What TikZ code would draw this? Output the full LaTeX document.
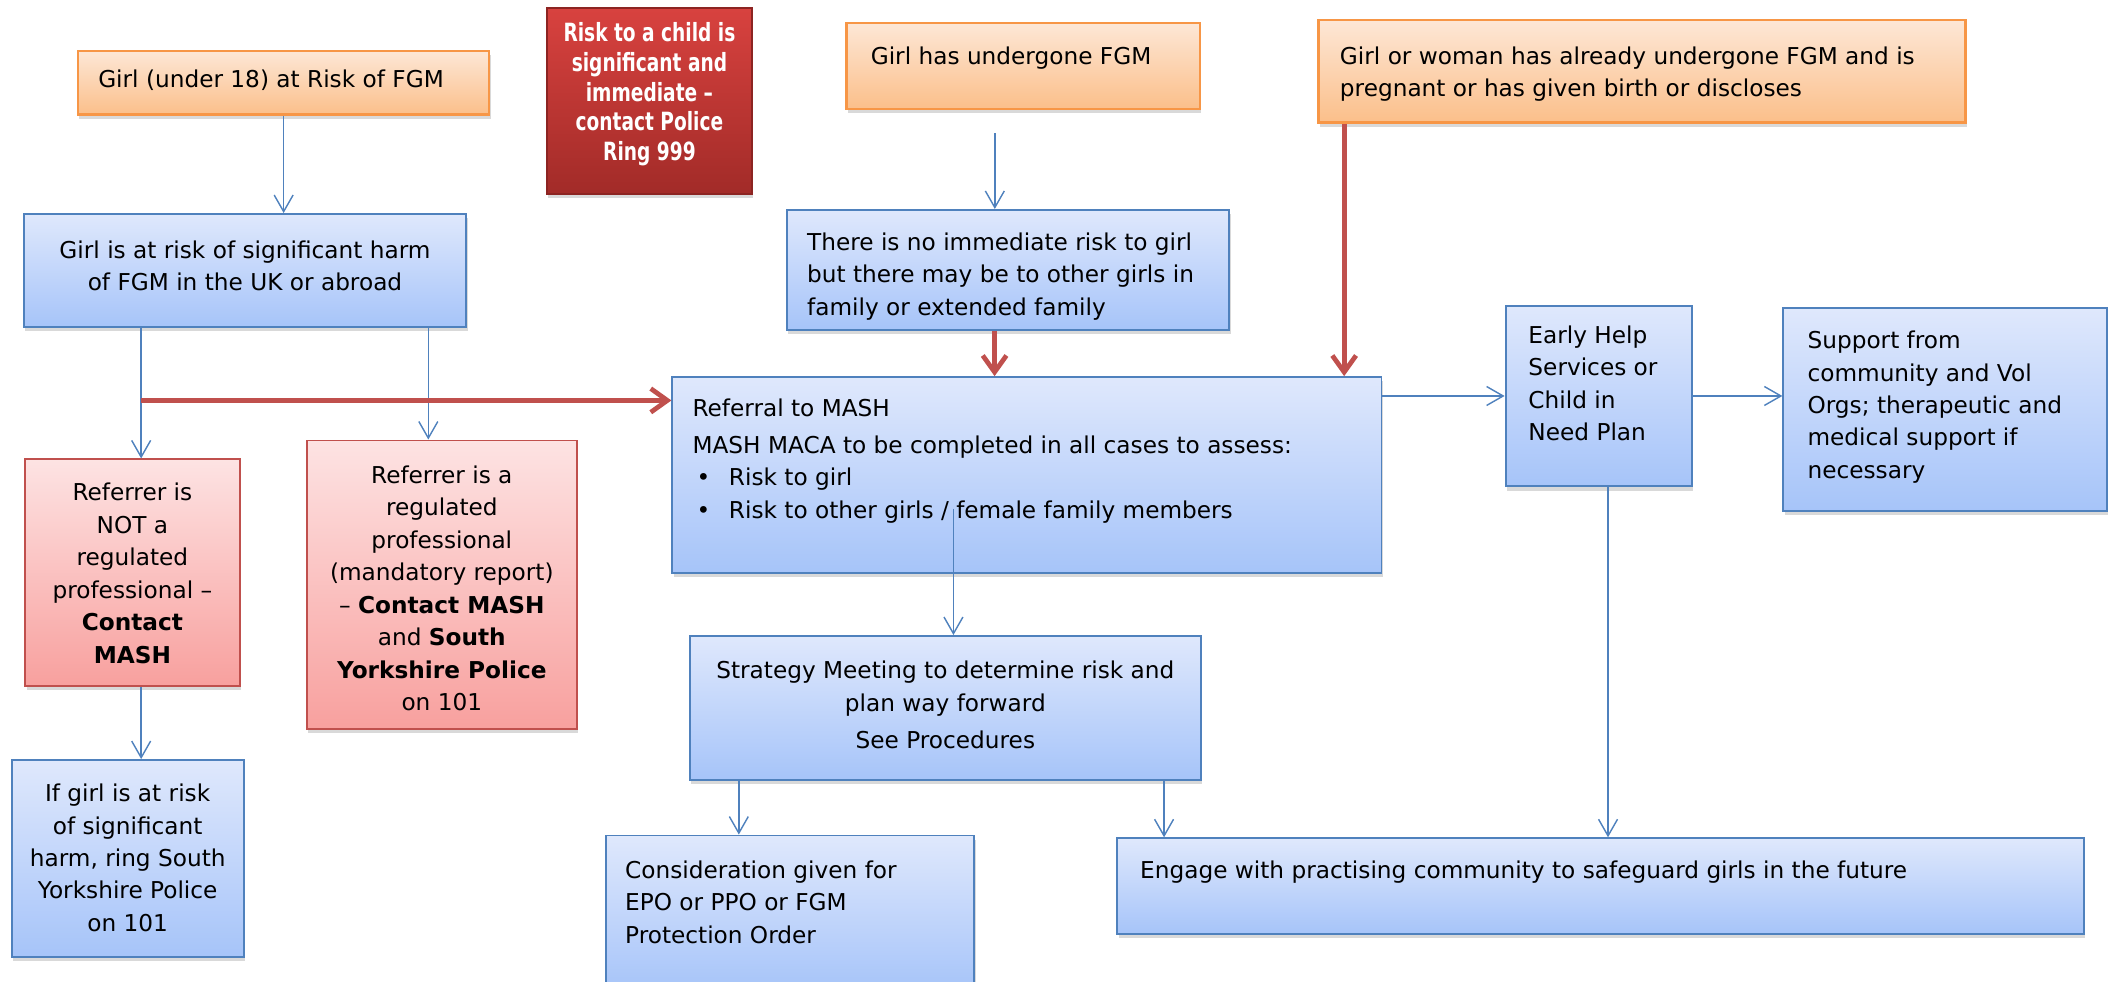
\documentclass[tikz,border=0pt]{standalone}
\usepackage{fontspec}
\setmainfont{DejaVu Sans}
\newfontfamily\alertfont{DejaVu Sans}[FakeStretch=0.74]
\usetikzlibrary{arrows.meta,calc,shadows}

\definecolor{orgline}{HTML}{F79646}
\definecolor{orgtop}{HTML}{FDE7D6}
\definecolor{orgbot}{HTML}{FBBF8A}
\definecolor{blueline}{HTML}{4F81BD}
\definecolor{bluetop}{HTML}{DFE8FC}
\definecolor{bluebot}{HTML}{A6C4F9}
\definecolor{redline}{HTML}{C0504D}
\definecolor{pinktop}{HTML}{FDE3E3}
\definecolor{pinkbot}{HTML}{F8A09E}
\definecolor{alerttop}{HTML}{D8423F}
\definecolor{alertbot}{HTML}{A22B28}
\definecolor{alertline}{HTML}{8C2422}

\newlength{\rpx}
\setlength{\rpx}{0.02cm}
% width, height, alignment, top gap, text
\newcommand{\boxtext}[5]{\parbox[c][#2\rpx][t]{#1\rpx}{#3\vspace*{#4\rpx}\strut#5}}

\tikzset{
  base/.style={anchor=north west, inner ysep=0pt,
    drop shadow={shadow xshift=0.6pt, shadow yshift=-1.8pt, opacity=0.3}},
  orangebox/.style={base, draw=orgline, line width=1pt, top color=orgtop, bottom color=orgbot},
  bluebox/.style={base, draw=blueline, line width=0.8pt, top color=bluetop, bottom color=bluebot},
  pinkbox/.style={base, draw=redline, line width=0.8pt, top color=pinktop, bottom color=pinkbot},
  alertbox/.style={base, draw=alertline, line width=0.8pt, top color=alerttop, bottom color=alertbot,
    text=white, font=\alertfont\fontsize{10.6}{12.5}\selectfont\bfseries},
  link/.style={draw=blueline, line width=0.6pt, -{Straight Barb[length=7pt,width=8pt]}},
  redlink/.style={draw=redline, line width=2pt, -{Straight Barb[length=7pt,width=10pt]}},
}

\begin{document}
\begin{tikzpicture}[x=0.02cm, y=-0.02cm, font=\fontsize{9.8}{13.7}\selectfont]
\useasboundingbox (0,0) rectangle (1568,728);

% top row
\node[orangebox, inner xsep=0.3cm] (girl) at (57,37)
  {\boxtext{275}{47}{\raggedright}{10}{Girl (under 18) at Risk of FGM}};
\node[alertbox, inner xsep=0.12cm] (alert) at (405,5)
  {\boxtext{140}{138}{\centering}{10}{Risk to a child is\\ significant and\\ immediate –\\ contact Police\\ Ring 999}};
\node[orangebox, inner xsep=0.36cm] (und) at (627,16)
  {\boxtext{226}{64}{\raggedright}{14}{Girl has undergone FGM}};
\node[orangebox, inner xsep=0.32cm] (woman) at (977,14)
  {\boxtext{448}{76}{\raggedright}{16}{Girl or woman has already undergone FGM and is\\ pregnant or has given birth or discloses}};

% second row
\node[bluebox, inner xsep=0.2cm] (risk) at (17,158)
  {\boxtext{308}{84}{\centering}{16}{Girl is at risk of significant harm\\ of FGM in the UK or abroad}};
\node[bluebox, inner xsep=0.3cm] (nt) at (583,155)
  {\boxtext{298}{89}{\raggedright}{13}{There is no immediate risk to girl\\ but there may be to other girls in\\ family or extended family}};
\node[bluebox, inner xsep=0.3cm] (ref) at (498,279)
  {\boxtext{496}{145}{\raggedright}{12}{Referral to MASH\\[2pt]
   MASH MACA to be completed in all cases to assess:\\
   \makebox[0.54cm][l]{\hspace{0.06cm}\textbullet}Risk to girl\\
   \makebox[0.54cm][l]{\hspace{0.06cm}\textbullet}Risk to other girls / female family members}};
\node[bluebox, inner xsep=0.34cm] (eh) at (1116,226)
  {\boxtext{104}{134}{\raggedright}{11}{Early Help\\ Services or\\ Child in\\ Need Plan}};
\node[bluebox, inner xsep=0.36cm] (sup) at (1322,228)
  {\boxtext{204}{150}{\raggedright}{13}{Support from\\ community and Vol\\ Orgs; therapeutic and\\ medical support if\\ necessary}};

% referrers
\node[pinkbox, inner xsep=0.12cm] (nreg) at (18,340)
  {\boxtext{147}{168}{\centering}{14}{Referrer is\\ NOT a\\ regulated\\ professional –\\ \textbf{Contact}\\ \textbf{MASH}}};
\node[pinkbox, inner xsep=0.12cm] (reg) at (227,326)
  {\boxtext{188}{214}{\centering}{15}{Referrer is a\\ regulated\\ professional\\ (mandatory report)\\ – \textbf{Contact MASH}\\ and \textbf{South}\\ \textbf{Yorkshire Police}\\ on 101}};
\node[bluebox, inner xsep=0.12cm] (ifg) at (8,563)
  {\boxtext{160}{146}{\centering}{14}{If girl is at risk\\ of significant\\ harm, ring South\\ Yorkshire Police\\ on 101}};

% lower part
\node[bluebox, inner xsep=0.2cm] (strat) at (511,471)
  {\boxtext{359}{107}{\centering}{15}{Strategy Meeting to determine risk and\\ plan way forward\\[2pt] See Procedures}};
\node[bluebox, inner xsep=0.28cm] (cons) at (449,619)
  {\boxtext{245}{116}{\raggedright}{15}{Consideration given for\\ EPO or PPO or FGM\\ Protection Order}};
\node[bluebox, inner xsep=0.34cm] (eng) at (828,621)
  {\boxtext{683}{71}{\raggedright}{13}{Engage with practising community to safeguard girls in the future}};

\coordinate (u1) at ($(und.south)+(-21,17)$);
\coordinate (r1) at ($(risk.south)+(-77,0)$);
\coordinate (r2) at ($(risk.south)+(136,0)$);
\coordinate (rin) at ($(ref.north west)+(0,18)$);
\coordinate (n1) at ($(nt.south)+(-10,0)$);
\coordinate (w1) at ($(woman.south west)+(20,0)$);
\coordinate (s1) at ($(strat.north)+(6,0)$);
\coordinate (s0) at ($(s1 |- ref.center)+(0,25)$);
\coordinate (e1) at ($(eh.south)+(7,0)$);
\coordinate (t1) at ($(strat.south west)+(37,0)$);
\coordinate (t2) at ($(strat.south east)+(-28,0)$);

\draw[link] (girl.south) -- (girl.south |- risk.north);
\draw[link] (u1) -- (u1 |- nt.north);
\draw[link] (r1) -- (r1 |- nreg.north);
\draw[link] (r2) -- (r2 |- reg.north);
\draw[link] (r1 |- nreg.south) -- (r1 |- ifg.north);
\draw[redlink] (r1 |- rin) -- (rin);
\draw[redlink] (n1) -- (n1 |- ref.north);
\draw[redlink] (w1) -- (w1 |- ref.north);
\draw[link] (s0) -- (s1);
\draw[link] (ref.east |- eh.west) -- (eh.west);
\draw[link] (eh.east) -- (eh.east -| sup.west);
\draw[link] (e1) -- (e1 |- eng.north);
\draw[link] (t1) -- (t1 |- cons.north);
\draw[link] (t2) -- (t2 |- eng.north);

\end{tikzpicture}
\end{document}
